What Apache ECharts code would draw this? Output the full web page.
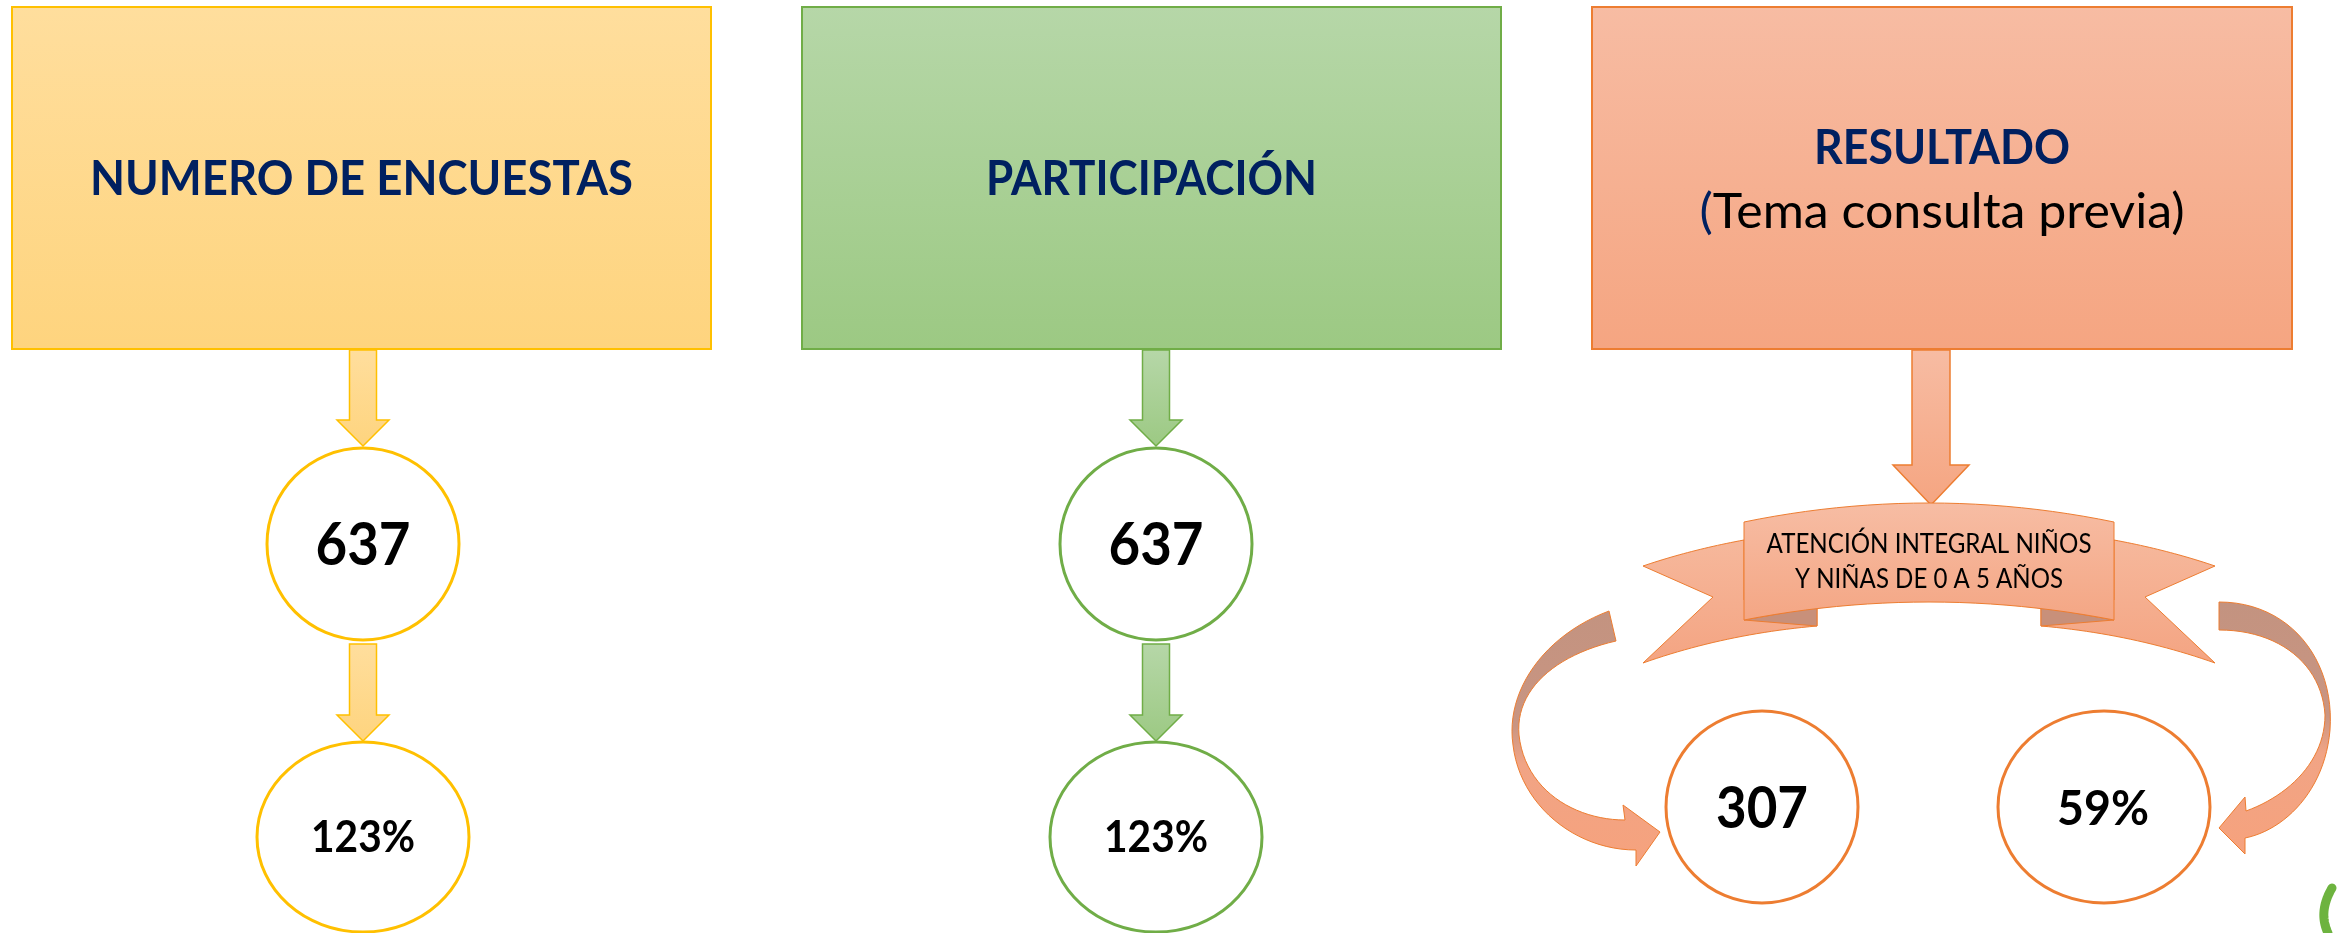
<!DOCTYPE html>
<html>
<head>
<meta charset="utf-8">
<title>Encuestas</title>
<script src="https://cdn.jsdelivr.net/npm/echarts@6/dist/echarts.min.js"></script>
<style>
    html, body { margin: 0; padding: 0; background: #fff; }
    .chart1 { width: 2338px; height: 933px; }
</style>
</head>
<body>
<div class="chart1"></div>
<script>
// values
var titles = ['NUMERO DE ENCUESTAS', 'PARTICIPACIÓN', 'RESULTADO'];
var subtitle = 'Tema consulta previa';
var counts = ['637', '637'];
var percents = ['123%', '123%'];
var resultTopic = ['ATENCIÓN INTEGRAL NIÑOS', 'Y NIÑAS DE 0 A 5 AÑOS'];
var resultCount = '307';
var resultPercent = '59%';

var FONT = 'Lato, "Open Sans", sans-serif';
var NAVY = '#002060';

var measureCtx = document.createElement('canvas').getContext('2d');
function fit(text, weight, size, width) {
    measureCtx.font = weight + ' ' + size + 'px ' + FONT;
    return width / measureCtx.measureText(text).width;
}

function grad(top, bottom) {
    return new echarts.graphic.LinearGradient(0, 0, 0, 1, [
        { offset: 0, color: top },
        { offset: 1, color: bottom }
    ]);
}

// turn a small M/L/Q/C outline into polygon points (graphic has no path type)
function outline(d) {
    var t = d.match(/[MLQCZ]|-?\d+(\.\d+)?/g);
    var pts = [], cur = [0, 0], i = 0, N = 24;
    function num() { return parseFloat(t[i++]); }
    while (i < t.length) {
        var cmd = t[i++];
        if (cmd === 'M' || cmd === 'L') {
            cur = [num(), num()];
            pts.push(cur);
        } else if (cmd === 'Q') {
            var q1 = [num(), num()], q2 = [num(), num()], q0 = cur;
            for (var k = 1; k <= N; k++) {
                var s = k / N, r = 1 - s;
                pts.push([r * r * q0[0] + 2 * r * s * q1[0] + s * s * q2[0], r * r * q0[1] + 2 * r * s * q1[1] + s * s * q2[1]]);
            }
            cur = q2;
        } else if (cmd === 'C') {
            var c1 = [num(), num()], c2 = [num(), num()], c3 = [num(), num()], c0 = cur;
            for (var k = 1; k <= N; k++) {
                var s = k / N, r = 1 - s;
                pts.push([
                    r * r * r * c0[0] + 3 * r * r * s * c1[0] + 3 * r * s * s * c2[0] + s * s * s * c3[0],
                    r * r * r * c0[1] + 3 * r * r * s * c1[1] + 3 * r * s * s * c2[1] + s * s * s * c3[1]
                ]);
            }
            cur = c3;
        }
    }
    return pts;
}

function label(text, x, y, size, weight, width, color) {
    return {
        type: 'text', x: x, y: y, scaleX: fit(text, weight, size, width), z: 10,
        style: {
            text: text, fill: color || '#000', font: weight + ' ' + size + 'px ' + FONT,
            align: 'center', verticalAlign: 'middle'
        }
    };
}

function downArrow(cx, y0, y1, shaftW, headW, headH, top, bottom, line) {
    var s = shaftW / 2, h = headW / 2;
    return {
        type: 'polygon', z: 3,
        shape: { points: [[cx - s, y0], [cx + s, y0], [cx + s, y1 - headH], [cx + h, y1 - headH], [cx, y1], [cx - h, y1 - headH], [cx - s, y1 - headH]] },
        style: { fill: grad(top, bottom), stroke: line, lineWidth: 1.5 }
    };
}

function oval(cx, cy, rx, ry, line) {
    return {
        type: 'ellipse', z: 4,
        shape: { cx: cx, cy: cy, rx: rx, ry: ry },
        style: { fill: '#fff', stroke: line, lineWidth: 3 }
    };
}

var cols = [
    { box: [12, 711], cx: 363, top: '#FFDE9D', bottom: '#FED47E', line: '#FFC000' },
    { box: [802, 1501], cx: 1156, top: '#B6D7A8', bottom: '#9CC983', line: '#70AD47' },
    { box: [1592, 2292], cx: 1930, top: '#F7BCA3', bottom: '#F5A581', line: '#ED7D31' }
];

var els = [];
cols.forEach(function (c, i) {
    els.push({
        type: 'rect', z: 2,
        shape: { x: c.box[0], y: 7, width: c.box[1] - c.box[0], height: 342 },
        style: { fill: grad(c.top, c.bottom), stroke: c.line, lineWidth: 2 }
    });
});

// columns 1 and 2
[0, 1].forEach(function (i) {
    var c = cols[i];
    els.push(label(titles[i], (c.box[0] + c.box[1]) / 2, 180, 48, 'bold', i === 0 ? 543 : 331, NAVY));
    els.push(downArrow(c.cx, 350, 446, 27, 52, 26, c.top, c.bottom, c.line));
    els.push(oval(c.cx, 544, 96, 96, c.line));
    els.push(label(counts[i], c.cx, 546, 60, 'bold', 95));
    els.push(downArrow(c.cx, 644, 741, 27, 52, 26, c.top, c.bottom, c.line));
    els.push(oval(c.cx, 837, 106, 95, c.line));
    els.push(label(percents[i], c.cx, 838, 44, 'bold', 104));
});

// column 3
var c3 = cols[2];
var mid = 1942;
els.push({
    type: 'text', x: mid, y: 149, scaleX: fit(titles[2], 'bold', 48, 256), z: 10,
    style: { text: titles[2], fill: NAVY, font: 'bold 48px ' + FONT, align: 'center', verticalAlign: 'middle' }
});
els.push({
    type: 'text', x: mid, y: 212, scaleX: fit('(' + subtitle + ')', 'normal', 49, 485), z: 10,
    style: {
        text: '{p|(}{t|' + subtitle + ')}', align: 'center', verticalAlign: 'middle',
        rich: {
            p: { fill: NAVY, font: 'normal 49px ' + FONT },
            t: { fill: '#000', font: 'normal 49px ' + FONT }
        }
    }
});
els.push(downArrow(1931, 350, 505, 38, 76, 40, c3.top, c3.bottom, c3.line));

// ribbon banner
var ax = 1929;
function mirror(pts) { return pts.map(function (p) { return [2 * ax - p[0], p[1]]; }); }
var wing = outline('M1744 540 Q1690 550 1643 566 L1713 597 L1643 663 Q1725 634 1817 626 L1817 600 L1744 600 Z');
var fold = [[1744, 620], [1817, 607], [1817, 626]];
[wing, mirror(wing)].forEach(function (p) {
    els.push({ type: 'polygon', z: 3, shape: { points: p }, style: { fill: grad('#F6B89C', '#F4A482'), stroke: c3.line, lineWidth: 1 } });
});
[fold, mirror(fold)].forEach(function (p) {
    els.push({ type: 'polygon', z: 4, shape: { points: p }, style: { fill: '#C8907A', stroke: c3.line, lineWidth: 1 } });
});
els.push({
    type: 'polygon', z: 5,
    shape: { points: outline('M1744 522 Q1929 484 2114 522 L2114 620 Q1929 584 1744 620 Z') },
    style: { fill: grad('#F7BDA4', '#F4A684'), stroke: c3.line, lineWidth: 1 }
});
els.push(label(resultTopic[0], ax, 545, 26, 'normal', 325));
els.push(label(resultTopic[1], ax, 580, 26, 'normal', 268));

// curved arrows
function twist() {
    return new echarts.graphic.LinearGradient(0, 0, 0, 1, [
        { offset: 0, color: '#C39380' }, { offset: 0.45, color: '#C99582' },
        { offset: 0.6, color: '#F1A485' }, { offset: 1, color: '#F6A27D' }
    ]);
}
els.push({
    type: 'polygon', z: 3,
    shape: { points: outline('M1609 611 C1545 635 1505 690 1513 745 C1520 805 1575 850 1636 850 L1636 866 L1660 832 L1623 805 L1625 820 C1575 820 1525 790 1519 735 C1515 690 1555 655 1616 641 Z') },
    style: { fill: twist(), stroke: c3.line, lineWidth: 1 }
});
els.push({
    type: 'polygon', z: 3,
    shape: { points: outline('M2219 602 C2290 602 2335 660 2330 730 C2325 790 2285 830 2245 838 L2245 854 L2219 828 L2245 797 L2246 811 C2290 795 2325 760 2325 715 C2322 665 2280 630 2219 630 Z') },
    style: { fill: twist(), stroke: c3.line, lineWidth: 1 }
});

els.push(oval(1762, 807, 96, 96, c3.line));
els.push(label(resultCount, 1762, 810, 57, 'bold', 92));
els.push(oval(2104, 807, 106, 96, c3.line));
els.push(label(resultPercent, 2103, 810, 48, 'bold', 92));

// corner logo piece
els.push({
    type: 'polyline', z: 6,
    shape: { points: outline('M2332 888 Q2318 912 2328 933') },
    style: { stroke: '#6DB33F', lineWidth: 9, fill: null, lineCap: 'round', lineJoin: 'round' }
});

var myChart1;
function initChart1() {
    myChart1 = echarts.init(document.querySelector('.chart1'), null, { renderer: 'canvas' });
    var option = {
        backgroundColor: '#fff',
        animation: false,
        graphic: { elements: els }
    };
    option && myChart1.setOption(option);
}
initChart1();
</script>
</body>
</html>
